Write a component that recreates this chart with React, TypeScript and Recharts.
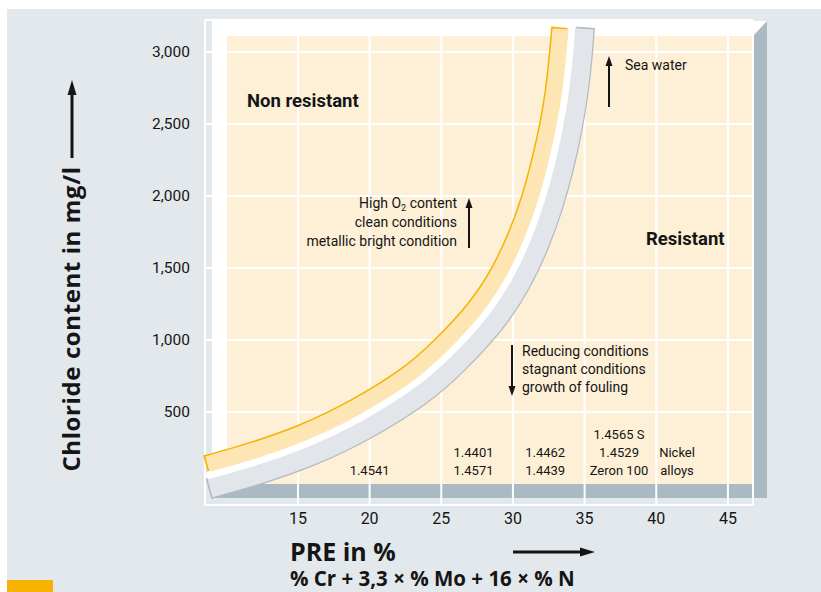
import React from 'react';
import { ComposedChart, Line, Scatter, XAxis, YAxis, CartesianGrid } from 'recharts';

// PRE (x) / chloride (y) points read along the middle of each band
const yellowPre = [8.68, 11.84, 15.37, 18.92, 22.47, 24.97, 27.33, 29.05, 30.27, 31.2, 31.9, 32.47, 32.89, 33.17, 33.32];
const yellowCl = [138, 229, 355, 525, 744, 958, 1214, 1471, 1727, 1982, 2236, 2489, 2742, 2994, 3160];
const gapPre = [8.9, 12.08, 15.68, 19.3, 22.94, 25.53, 27.96, 29.75, 31.01, 31.96, 32.68, 33.26, 33.69, 33.97, 34.12];
const gapCl = [61, 153, 282, 455, 680, 900, 1164, 1432, 1697, 1958, 2216, 2473, 2731, 2987, 3160];
const grayPre = [8.87, 12.35, 16.02, 19.72, 23.46, 26.14, 28.65, 30.51, 31.82, 32.79, 33.53, 34.11, 34.55, 34.84, 34.98];
const grayCl = [-30, 70, 201, 378, 610, 838, 1111, 1389, 1663, 1931, 2195, 2457, 2719, 2978, 3160];

// rims run a touch past the band ends so the caps get their outline
const yellowRimPre = [8.57, 11.84, 15.37, 18.92, 22.47, 24.97, 27.33, 29.05, 30.27, 31.2, 31.9, 32.47, 32.89, 33.17, 33.33];
const yellowRimCl = [135, 229, 355, 525, 744, 958, 1214, 1471, 1727, 1982, 2236, 2489, 2742, 2994, 3171];
const grayRimPre = [8.76, 12.35, 16.02, 19.72, 23.46, 26.14, 28.65, 30.51, 31.82, 32.79, 33.53, 34.11, 34.55, 34.84, 34.99];
const grayRimCl = [-34, 70, 201, 378, 610, 838, 1111, 1389, 1663, 1931, 2195, 2457, 2719, 2978, 3171];

// steel grades written at the bottom of the chart
const gradeNames = ['1.4541', '1.4401', '1.4571', '1.4462', '1.4439', '1.4565 S', '1.4529', 'Zeron 100', 'Nickel', 'alloys'];
const gradePre = [20, 27.25, 27.25, 32.25, 32.25, 37.4, 37.4, 37.4, 41.45, 41.45];
const gradeCl = [97, 222, 97, 222, 97, 347, 222, 97, 222, 97];

const xTicks = [15, 20, 25, 30, 35, 40, 45];
const yTicks = [500, 1000, 1500, 2000, 2500, 3000];

const toPoints = (xs: number[], ys: number[]) => xs.map((x, i) => ({ pre: x, chloride: ys[i] }));
const yellowBand = toPoints(yellowPre, yellowCl);
const gapBand = toPoints(gapPre, gapCl);
const grayBand = toPoints(grayPre, grayCl);
const yellowRim = toPoints(yellowRimPre, yellowRimCl);
const grayRim = toPoints(grayRimPre, grayRimCl);
const grades = gradeNames.map((name, i) => ({ name, pre: gradePre[i], chloride: gradeCl[i] }));

const smallFont = "Roboto, 'Liberation Sans', sans-serif";
const boldFont = "'Open Sans', 'DejaVu Sans', sans-serif";
const ink = '#151515';

const Arrow = ({ x1, y1, x2, y2, width = 2, head = 10, spread = 3.5 }: any) => {
  const len = Math.hypot(x2 - x1, y2 - y1);
  const ux = (x2 - x1) / len;
  const uy = (y2 - y1) / len;
  const bx = x2 - ux * head;
  const by = y2 - uy * head;
  return (
    <g>
      <line x1={x1} y1={y1} x2={bx} y2={by} stroke={ink} strokeWidth={width} />
      <polygon
        points={`${x2},${y2} ${bx - uy * spread},${by + ux * spread} ${bx + uy * spread},${by - ux * spread}`}
        fill={ink}
      />
    </g>
  );
};

const GradeLabel = (props: any) => {
  const { cx, cy, payload } = props;
  return (
    <text x={cx} y={cy} dy={4.5} textAnchor="middle" fontFamily={smallFont} fontSize={13} fill={ink}>
      {payload.name}
    </text>
  );
};

const App = () => {
  return (
    <div style={{ position: 'absolute', left: 0, top: 0, width: 821, height: 592, background: '#fff' }}>
      {/* backdrop: grey page, bevelled board, cream plot */}
      <svg width={821} height={592} style={{ position: 'absolute', left: 0, top: 0 }}>
        <rect x={7} y={9} width={814} height={583} fill="#e3e8ec" />
        <rect x={212} y={21} width={555} height={477} fill="#abb9c2" />
        <polygon points="212,21 767,21 753,36 227,36 227,484 212,498" fill="#ffffff" />
        <rect x={227} y={36} width={526} height={448} fill="#fef0d7" />
        <rect x={7} y={580} width={46} height={12} fill="#f6b400" />
      </svg>

      <div style={{ position: 'absolute', left: 0, top: 0 }}>
        <ComposedChart width={821} height={592} margin={{ top: 20, right: 68, left: 145, bottom: 57 }}>
          <CartesianGrid stroke="#ffffff" strokeWidth={2} />
          <XAxis
            type="number"
            dataKey="pre"
            domain={[8.514, 46.75]}
            ticks={xTicks}
            height={30}
            axisLine={false}
            tickLine={false}
            tickMargin={2}
            tick={{ fill: ink, fontSize: 16, fontFamily: smallFont }}
          />
          <YAxis
            type="number"
            dataKey="chloride"
            domain={[-146, 3222]}
            ticks={yTicks}
            width={60}
            axisLine={false}
            tickLine={false}
            tickMargin={9}
            tickFormatter={(v: number) => v.toLocaleString('en-US')}
            tick={{ fill: ink, fontSize: 15.5, fontFamily: smallFont }}
          />
          <Line data={yellowRim} dataKey="chloride" type="natural" stroke="#f5b300" strokeWidth={19} dot={false} activeDot={false} isAnimationActive={false} />
          <Line data={grayRim} dataKey="chloride" type="natural" stroke="#b3bac1" strokeWidth={21} dot={false} activeDot={false} isAnimationActive={false} />
          <Line data={gapBand} dataKey="chloride" type="natural" stroke="#ffffff" strokeWidth={9} strokeLinecap="round" dot={false} activeDot={false} isAnimationActive={false} />
          <Line data={yellowBand} dataKey="chloride" type="natural" stroke="#fde5b4" strokeWidth={16} dot={false} activeDot={false} isAnimationActive={false} />
          <Line data={grayBand} dataKey="chloride" type="natural" stroke="#e2e6ea" strokeWidth={18.5} dot={false} activeDot={false} isAnimationActive={false} />
          <Scatter data={grades} dataKey="chloride" shape={GradeLabel} isAnimationActive={false} />
        </ComposedChart>
      </div>

      {/* titles and notes */}
      <svg width={821} height={592} style={{ position: 'absolute', left: 0, top: 0, pointerEvents: 'none' }}>
        <g fontFamily={smallFont} fontSize={14} fill={ink}>
          <text x={625} y={70}>Sea water</text>
          <text x={457} y={208} textAnchor="end">
            High O<tspan fontSize={9} dy={3}>2</tspan>
            <tspan dy={-3}> content</tspan>
          </text>
          <text x={457} y={227} textAnchor="end">clean conditions</text>
          <text x={457} y={246} textAnchor="end">metallic bright condition</text>
          <text x={522} y={356}>Reducing conditions</text>
          <text x={522} y={374}>stagnant conditions</text>
          <text x={522} y={392}>growth of fouling</text>
        </g>
        <g fontFamily={smallFont} fontWeight="bold" fontSize={18.5} fill={ink}>
          <text x={247} y={107}>Non resistant</text>
          <text x={646} y={245}>Resistant</text>
        </g>
        <Arrow x1={609} y1={107} x2={609} y2={56} />
        <Arrow x1={469} y1={248} x2={469} y2={198} />
        <Arrow x1={512} y1={345} x2={512} y2={396} />

        <g fontFamily={boldFont} fontWeight="bold" fill={ink}>
          <text x={290} y={561} fontSize={25}>PRE in %</text>
          <text x={290} y={586} fontSize={20.5}>% Cr + 3,3 × % Mo + 16 × % N</text>
          <text transform="translate(80,319) rotate(-90)" textAnchor="middle" fontSize={24} letterSpacing={0.6}>
            Chloride content  in mg/l
          </text>
        </g>
        <Arrow x1={72} y1={158} x2={72} y2={80} width={3} head={15} spread={4.5} />
        <Arrow x1={513} y1={552} x2={595} y2={552} width={3} head={15} spread={4.5} />
      </svg>
    </div>
  );
};

export default App;
